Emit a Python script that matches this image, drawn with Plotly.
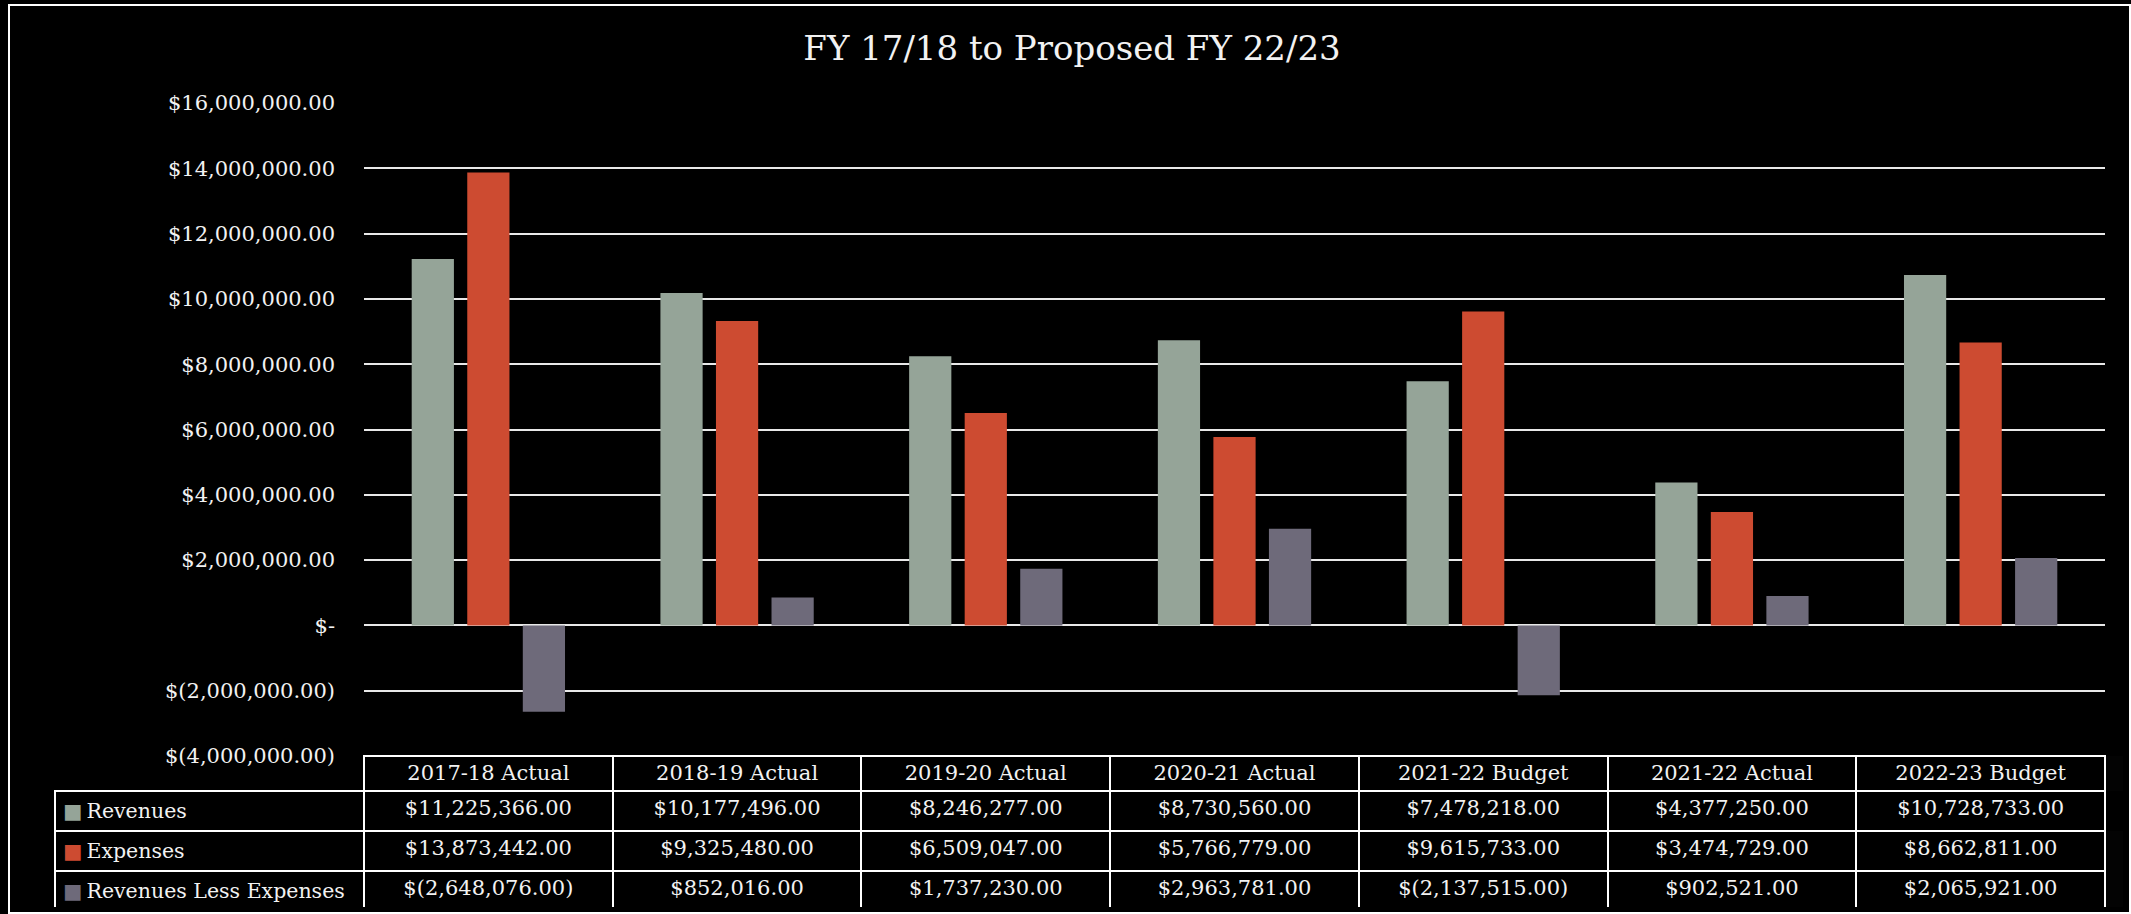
import plotly.graph_objects as go

W, H = 2131, 914

categories = ["2017-18 Actual", "2018-19 Actual", "2019-20 Actual", "2020-21 Actual",
              "2021-22 Budget", "2021-22 Actual", "2022-23 Budget"]
revenues = [11225366, 10177496, 8246277, 8730560, 7478218, 4377250, 10728733]
expenses = [13873442, 9325480, 6509047, 5766779, 9615733, 3474729, 8662811]
net = [-2648076, 852016, 1737230, 2963781, -2137515, 902521, 2065921]
series_names = ["Revenues", "Expenses", "Revenues Less Expenses"]
series_colors = ["#95A498", "#CD4B31", "#6E6A7A"]
tick_values = [-4000000, -2000000, 0, 2000000, 4000000, 6000000, 8000000,
               10000000, 12000000, 14000000, 16000000]

FONT = "DejaVu Serif"
TXT = "#F2F2F2"
GRID = "#E8E8E8"


def acct(v):
    if v == 0:
        return "$-"
    s = f"{abs(v):,.2f}"
    return f"$({s})" if v < 0 else f"${s}"


fig = go.Figure()
for name, vals, col in zip(series_names, [revenues, expenses, net], series_colors):
    fig.add_trace(go.Bar(x=categories, y=vals, name=name, marker_color=col,
                         marker_line_width=0, showlegend=False))

# plot area in pixels
px_l, px_r = 364, 2105
py_t, py_b = 103, 756
tbl_l = 55

# body rows: first column label with coloured key, then values per category
labels = [f"<span style='color:{c}'>■</span>\u2009{n}<br>"
          for n, c in zip(series_names, series_colors)]
rows = [[labels[i]] + [acct(v) for v in vals]
        for i, vals in enumerate([revenues, expenses, net])]
colwidths = [px_l - tbl_l] + [(px_r - px_l) / 7] * 7
aligns = ["left"] + ["center"] * 7
cell_style = dict(fill_color="black", line=dict(color="white", width=2),
                  font=dict(family=FONT, size=[20.5] + [21] * 7, color=TXT),
                  align=aligns, height=37)

fig.add_trace(go.Table(
    domain=dict(x=[tbl_l / W, px_r / W], y=[1 - 908 / H, 1 - 791 / H]),
    columnwidth=colwidths,
    header=dict(values=rows[0], **cell_style),
    cells=dict(values=[list(c) for c in zip(*rows[1:])], **cell_style),
))

# header table (category labels)
fig.add_trace(go.Table(
    domain=dict(x=[px_l / W, px_r / W], y=[1 - 791 / H, 1 - py_b / H]),
    columnwidth=[1] * len(categories),
    header=dict(values=categories, height=35, fill_color="black",
                line=dict(color="white", width=2),
                font=dict(family=FONT, size=21, color=TXT), align="center"),
    cells=dict(values=[[] for _ in categories]),
))

fig.update_layout(
    width=W, height=H,
    paper_bgcolor="black", plot_bgcolor="black",
    margin=dict(l=0, r=0, t=0, b=0, autoexpand=False),
    barmode="group", bargap=0.33, bargroupgap=0.24,
    title=dict(text="FY 17/18 to Proposed FY 22/23", x=1072 / W, xanchor="center",
               y=1 - 48 / H, yanchor="middle",
               font=dict(family=FONT, size=34, color=TXT)),
    xaxis=dict(domain=[px_l / W, px_r / W], showticklabels=False, showgrid=False,
               zeroline=False, showline=False, automargin=False),
    yaxis=dict(domain=[1 - py_b / H, 1 - py_t / H], range=[-4000000, 16000000],
               tickvals=tick_values, ticktext=[acct(v) for v in tick_values],
               showgrid=True, gridcolor=GRID, gridwidth=2,
               zeroline=True, zerolinecolor=GRID, zerolinewidth=2,
               ticks="", ticklabelstandoff=28, automargin=False,
               tickfont=dict(family=FONT, size=21, color=TXT)),
    shapes=[dict(type="rect", xref="paper", yref="paper",
                 x0=9 / W, x1=2130 / W, y0=1 - 913 / H, y1=1 - 5 / H,
                 line=dict(color="white", width=2), layer="below")],
)

fig.write_html("out.html", config={"displayModeBar": False},
               post_script="document.body.style.margin='0';")
